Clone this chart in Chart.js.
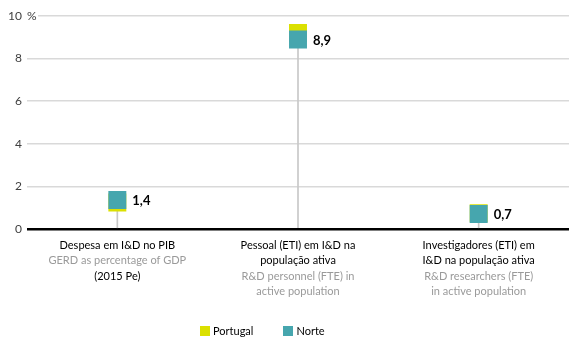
<!DOCTYPE html>
<html>
<head>
<meta charset="utf-8">
<script src="https://cdn.jsdelivr.net/npm/chart.js@4"></script>
<style>
  html, body { margin: 0; padding: 0; background: #fff; overflow: hidden; }
  #wrap { position: relative; width: 569px; height: 337px; }
  #legend { position: absolute; top: 324px; left: 200px; font: 11px Lato, sans-serif; color: #000; display: flex; }
  #legend span.item { display: flex; align-items: center; margin-right: 30px; }
  #legend span.box { display: inline-block; width: 10px; height: 10px; margin-right: 3px; }
</style>
</head>
<body>
<div id="wrap">
  <canvas id="chart" width="569" height="337"></canvas>
  <div id="legend"></div>
</div>
<script>
const categories = ["despesa", "pessoal", "investigadores"];
const labelsPt = [
  ["Despesa em I&D no PIB"],
  ["Pessoal (ETI) em I&D na", "população ativa"],
  ["Investigadores (ETI) em", "I&D na população ativa"],
];
const labelsEn = [
  ["GERD as percentage of GDP"],
  ["R&D personnel (FTE) in", "active population"],
  ["R&D researchers (FTE)", "in active population"],
];
const labelsNote = [["(2015 Pe)"], [], []];
const portugalValues = [1.24, 9.2, 0.74];
const norteValues = [1.36, 8.9, 0.7];
const yTicks = [0, 2, 4, 6, 8, 10];

const portugalColor = "#dbe000";
const norteColor = "#46a6ae";
const fontFamily = "Lato, sans-serif";

function formatValue(v) {
  return v.toFixed(1).replace(".", ",");
}

// draws the category labels (mixed colours), value labels and the "%" unit
const extraText = {
  id: "extraText",
  afterDatasetsDraw(chart) {
    const ctx = chart.ctx;
    const x = chart.scales.x;
    const y = chart.scales.y;
    ctx.save();

    // unit next to the top tick
    ctx.fillStyle = "#fff";
    ctx.fillRect(x.left, y.getPixelForValue(10) - 2, 11, 4);
    ctx.fillStyle = "#404040";
    ctx.font = "12px " + fontFamily;
    ctx.textAlign = "left";
    ctx.textBaseline = "middle";
    ctx.fillText("%", x.left, y.getPixelForValue(10));

    // category labels
    ctx.font = "11px " + fontFamily;
    ctx.textAlign = "center";
    categories.forEach((c, i) => {
      const cx = x.getPixelForValue(i);
      let ly = 245;
      labelsPt[i].forEach((line) => {
        ctx.fillStyle = "#000";
        ctx.fillText(line, cx, ly);
        ly += 15.6;
      });
      labelsEn[i].forEach((line) => {
        ctx.fillStyle = "#9a9a9a";
        ctx.fillText(line, cx, ly);
        ly += 15.6;
      });
      labelsNote[i].forEach((line) => {
        ctx.fillStyle = "#000";
        ctx.fillText(line, cx, ly);
        ly += 15.6;
      });
    });

    // value labels for Norte
    ctx.font = "bold 13px " + fontFamily;
    ctx.fillStyle = "#000";
    ctx.textAlign = "left";
    norteValues.forEach((v, i) => {
      const px = x.getPixelForValue(i);
      const py = y.getPixelForValue(v);
      ctx.fillText(formatValue(v), px + 15, py + 1);
    });
    ctx.restore();
  },
};

const chart = new Chart(document.getElementById("chart").getContext("2d"), {
  type: "line",
  data: {
    labels: categories,
    datasets: [
      {
        type: "bar",
        label: "stem",
        data: norteValues,
        backgroundColor: "#c8c8c8",
        barThickness: 1,
        order: 3,
      },
      {
        label: "Portugal",
        data: portugalValues,
        showLine: false,
        pointStyle: "rect",
        pointRadius: 12.7,
        pointBorderWidth: 0,
        pointBackgroundColor: portugalColor,
        borderColor: portugalColor,
        backgroundColor: portugalColor,
        order: 2,
      },
      {
        label: "Norte",
        data: norteValues,
        showLine: false,
        pointStyle: "rect",
        pointRadius: 12.7,
        pointBorderWidth: 0,
        pointBackgroundColor: norteColor,
        borderColor: norteColor,
        backgroundColor: norteColor,
        order: 1,
      },
    ],
  },
  options: {
    responsive: false,
    animation: false,
    events: [],
    layout: { autoPadding: false, padding: { top: 16, right: -6, bottom: 108, left: 0 } },
    plugins: {
      legend: { display: false },
      tooltip: { enabled: false },
    },
    scales: {
      x: {
        offset: true,
        afterFit: (scale) => {
          scale.height = 0;
        },
        grid: { display: false },
        border: { display: false },
        ticks: { display: false },
      },
      y: {
        min: 0,
        max: 10,
        afterFit: (scale) => {
          scale.width = 27;
        },
        afterBuildTicks: (scale) => {
          scale.ticks = yTicks.map((v) => ({ value: v }));
        },
        border: { display: false },
        grid: {
          drawTicks: false,
          color: (c) => (c.tick && c.tick.value === 0 ? "#000" : "#d9d9d9"),
          lineWidth: (c) => (c.tick && c.tick.value === 0 ? 2.5 : 1.5),
        },
        ticks: {
          padding: 5,
          color: "#404040",
          font: { family: fontFamily, size: 12 },
        },
      },
    },
  },
  plugins: [extraText],
});

const legend = document.getElementById("legend");
chart.data.datasets.slice(1).forEach((ds) => {
  legend.innerHTML += `<span class="item"><span class="box" style="background:${ds.backgroundColor}"></span>${ds.label}</span>`;
});
</script>
</body>
</html>
